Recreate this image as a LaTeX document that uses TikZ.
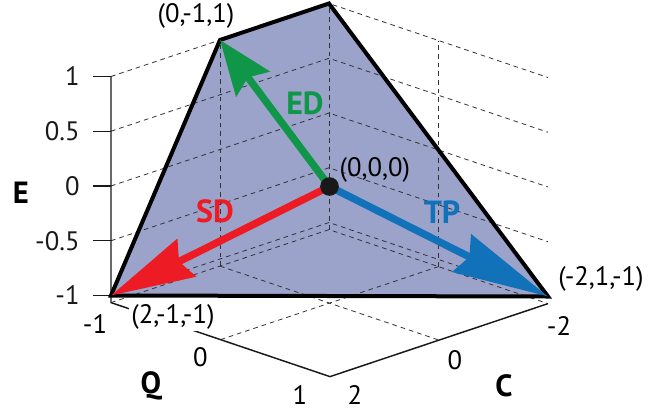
\documentclass[tikz,border=0pt]{standalone}
\usepackage{fontspec}
\setmainfont{PT Sans}
\usepackage{tikz}
\usetikzlibrary{calc, arrows.meta, positioning}
\definecolor{planefill}{RGB}{156,163,202}
\definecolor{edgreen}{RGB}{16,150,72}
\definecolor{sdred}{RGB}{237,28,36}
\definecolor{tpblue}{RGB}{17,114,186}
\tikzset{
  gridline/.style={dash pattern=on 3.5pt off 3pt, line width=0.6pt, black!80}
}
\tikzset{
  axisline/.style={line width=1.1pt, black!90}
}
\tikzset{
  ticktext/.style={font=\fontsize{20}{24}\selectfont, inner sep=0pt}
}
\tikzset{
  axistitle/.style={font=\fontsize{23}{27}\selectfont\bfseries, inner sep=0pt}
}
\tikzset{
  vec/.style={line width=5.5pt, -{Stealth[length=#1, width=31pt, inset=6pt]}}
}
\tikzset{
  veclabel/.style={font=\fontsize{24}{28}\selectfont\bfseries, inner sep=0pt}
}

\begin{document}
\begin{tikzpicture}[x={(-40.875pt,-13.6875pt)}, y={(82.125pt,-27.75pt)}, z={(0pt,82.125pt)}]
  \useasboundingbox (-247.125pt,-171.375pt) rectangle (253.125pt,139.875pt);
  \coordinate (O) at (0,0,0);
  \coordinate (sd) at (2,-1,-1);
  \coordinate (ed) at (0,-1,1);
  \coordinate (top) at (-2,-1,1);
  \coordinate (tp) at (-2,1,-1);
  \fill[planefill] (sd) -- (ed) -- (top) -- (tp) -- cycle;
  % back walls
  \foreach \e in {-1,-0.5,0,0.5,1} {
    \draw[gridline] (2,-1,\e) -- (-2,-1,\e) -- (-2,1,\e);
  }
  \foreach \c/\q in {0/-1, -2/-1, -2/0} {
    \draw[gridline] (\c,\q,-1.065) -- (\c,\q,1);
  }
  % floor
  \draw[gridline] (2,-1,-1.065) -- (-2,-1,-1.065) -- (-2,1,-1.065);
  \draw[gridline] (0,-1,-1.065) -- (0,1,-1.065);
  \draw[gridline] (2,0,-1.065) -- (-2,0,-1.065);
  % axes
  \draw[axisline] (2,-1,1) -- (2,-1,-1.065) -- (2,1,-1.065) -- (-2,1,-1.065);
  \foreach \e in {-1,-0.5,0,0.5,1} {
    \draw[axisline] (2,-1,\e) -- ++(-13.5pt,0pt) node[ticktext, left=9.5pt] {\e};
  }
  \foreach \q/\dx/\dy in {-1/-12pt/-15.75pt, 0/-15pt/-13.5pt, 1/-22.5pt/-13.5pt} {
    \node[ticktext] at ($(2,\q,-1.065)+(\dx,\dy)$) {\q};
  }
  \foreach \c/\dx/\dy in {2/18.75pt/-13.8pt, 0/12pt/-15pt, -2/8.25pt/-16.5pt} {
    \node[ticktext] at ($(\c,1,-1.065)+(\dx,\dy)$) {\c};
  }
  \node[axistitle] (Etitle) at ($(O)+(-231.4pt,-4.9pt)$) {E};
  \node[axistitle] (Qtitle) at ($(O)+(-133.9pt,-149.6pt)$) {Q};
  \node[axistitle] (Ctitle) at ($(O)+(130.9pt,-149.6pt)$) {C};
  % the plane
  \draw[line width=3pt, line join=miter] (sd) -- (ed) -- (top) -- (tp) -- cycle;
  \draw[vec=41pt, edgreen] (O) -- (ed);
  \draw[vec=63pt, sdred] (O) -- (sd);
  \draw[vec=72pt, tpblue] (O) -- (tp);
  \node[circle, fill=black!90, minimum size=14pt, inner sep=0pt] (dot) at (O) {};
  \node[ticktext] (lblO) at ($(O)+(34pt,12.4pt)$) {(0,0,0)};
  \node[ticktext] (lbled) at ($(ed)+(-18pt,18pt)$) {(0,-1,1)};
  \node[ticktext, fill=white, inner sep=1.5pt] (lblsd) at ($(sd)+(46.5pt,-16pt)$) {(2,-1,-1)};
  \node[ticktext] (lbltp) at ($(tp)+(39.75pt,13pt)$) {(-2,1,-1)};
  \node[veclabel, edgreen] (ED) at ($(O)+(-18.4pt,62.6pt)$) {ED};
  \node[veclabel, sdred] (SD) at ($(O)+(-85.9pt,-18.4pt)$) {SD};
  \node[veclabel, tpblue] (TP) at ($(O)+(84.4pt,-19.1pt)$) {TP};
\end{tikzpicture}
\end{document}
